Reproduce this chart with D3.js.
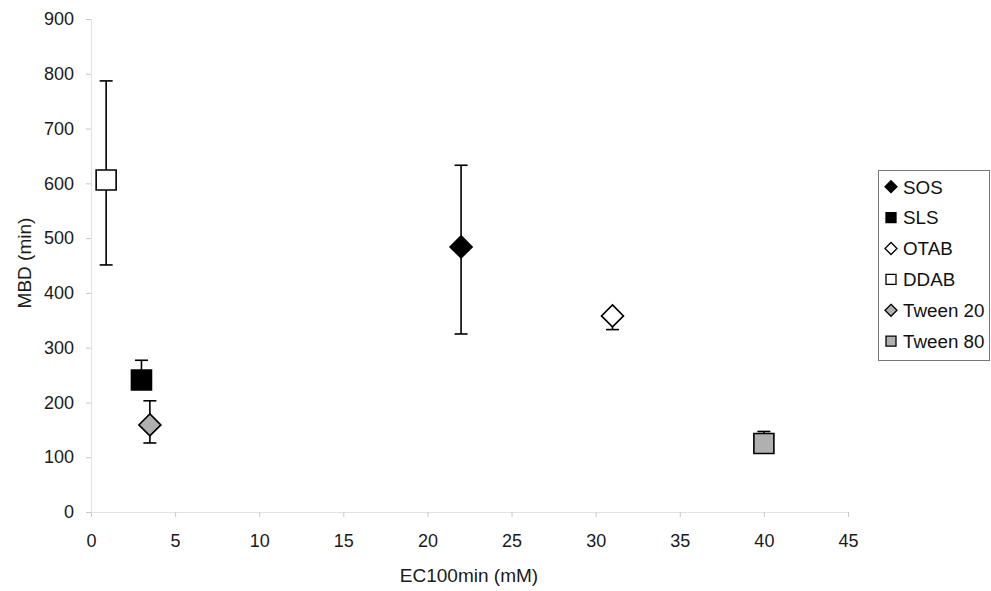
<!DOCTYPE html>
<html>
<head>
<meta charset="utf-8">
<script src="https://cdn.jsdelivr.net/npm/d3@7"></script>
<style>
  html, body { margin: 0; padding: 0; background: #fff; }
  svg { display: block; font-family: "Liberation Sans", Arial, sans-serif; }
</style>
</head>
<body>
<svg id="chart" width="991" height="591"></svg>
<script>
// Surfactant series: EC100min (mM) vs MBD (min), with lower/upper error bounds
const names   = ["SOS", "SLS", "OTAB", "DDAB", "Tween 20", "Tween 80"];
const ec100   = [22, 3, 31, 0.9, 3.5, 40];
const mbd     = [484, 241, 358, 606, 159, 125];
const mbdLow  = [325, 230, 333, 451, 126, 120];
const mbdHigh = [633, 277, 365, 787, 203, 147];
const shapes  = ["diamond", "square", "diamond", "square", "diamond", "square"];
const fills   = ["#000000", "#000000", "#ffffff", "#ffffff", "#b0b0b0", "#b0b0b0"];

const xTicks = [0, 5, 10, 15, 20, 25, 30, 35, 40, 45];
const yTicks = [0, 100, 200, 300, 400, 500, 600, 700, 800, 900];

const svg = d3.select("#chart");

const x = d3.scaleLinear().domain([0, 45]).range([91, 848]);
const y = d3.scaleLinear().domain([0, 900]).range([512, 19]);

// axes
const xAxis = d3.axisBottom(x).tickValues(xTicks).tickSize(5).tickSizeOuter(0).tickPadding(17);
const yAxis = d3.axisLeft(y).tickValues(yTicks).tickSize(5).tickSizeOuter(0).tickPadding(12);

const gx = svg.append("g").attr("transform", "translate(0,512)").call(xAxis);
const gy = svg.append("g").attr("transform", "translate(91,0)").call(yAxis);

[gx, gy].forEach(g => {
  g.select(".domain").attr("stroke", "#e2e2e2").attr("stroke-width", 1);
  g.selectAll(".tick line").attr("stroke", "#c8c8c8");
  g.selectAll(".tick text").attr("fill", "#1a1a1a").attr("font-size", 18);
});

// axis titles
svg.append("text")
  .attr("x", 469).attr("y", 582)
  .attr("text-anchor", "middle")
  .attr("font-size", 19).attr("fill", "#1a1a1a")
  .text("EC100min (mM)");

svg.append("text")
  .attr("transform", "translate(31,263) rotate(-90)")
  .attr("text-anchor", "middle")
  .attr("font-size", 19).attr("fill", "#1a1a1a")
  .text("MBD (min)");

const data = names.map((n, i) => ({
  name: n, x: ec100[i], y: mbd[i], lo: mbdLow[i], hi: mbdHigh[i],
  shape: shapes[i], fill: fills[i]
}));

// error bars (drawn beneath the markers)
const eb = svg.append("g").attr("stroke", "#000").attr("stroke-width", 1.6);
data.forEach(d => {
  const cx = x(d.x);
  eb.append("line").attr("x1", cx).attr("x2", cx).attr("y1", y(d.lo)).attr("y2", y(d.hi));
  eb.append("line").attr("x1", cx - 6.5).attr("x2", cx + 6.5).attr("y1", y(d.hi)).attr("y2", y(d.hi));
  eb.append("line").attr("x1", cx - 6.5).attr("x2", cx + 6.5).attr("y1", y(d.lo)).attr("y2", y(d.lo));
});

function markerPath(shape, s) {
  const h = s / 2;
  if (shape === "square") return `M${-h},${-h}H${h}V${h}H${-h}Z`;
  return `M0,${-h}L${h},0L0,${h}L${-h},0Z`;
}

svg.append("g").selectAll("path.pt")
  .data(data).join("path")
  .attr("class", "pt")
  .attr("transform", d => `translate(${x(d.x)},${y(d.y)})`)
  .attr("d", d => markerPath(d.shape, d.shape === "square" ? 20 : 22))
  .attr("fill", d => d.fill)
  .attr("stroke", "#000").attr("stroke-width", 1.6);

// legend
const lg = svg.append("g");
lg.append("rect")
  .attr("x", 878.5).attr("y", 170.5).attr("width", 111).attr("height", 190)
  .attr("fill", "#fff").attr("stroke", "#777").attr("stroke-width", 1);

const items = lg.selectAll("g.item").data(data).join("g")
  .attr("class", "item")
  .attr("transform", (d, i) => `translate(891,${186.7 + i * 30.9})`);

items.append("path")
  .attr("d", d => markerPath(d.shape, d.shape === "square" ? 10 : 12))
  .attr("fill", d => d.fill)
  .attr("stroke", "#000").attr("stroke-width", 1.3);

items.append("text")
  .attr("x", 12).attr("y", 6.8)
  .attr("font-size", 18.8).attr("fill", "#111")
  .text(d => d.name);
</script>
</body>
</html>
